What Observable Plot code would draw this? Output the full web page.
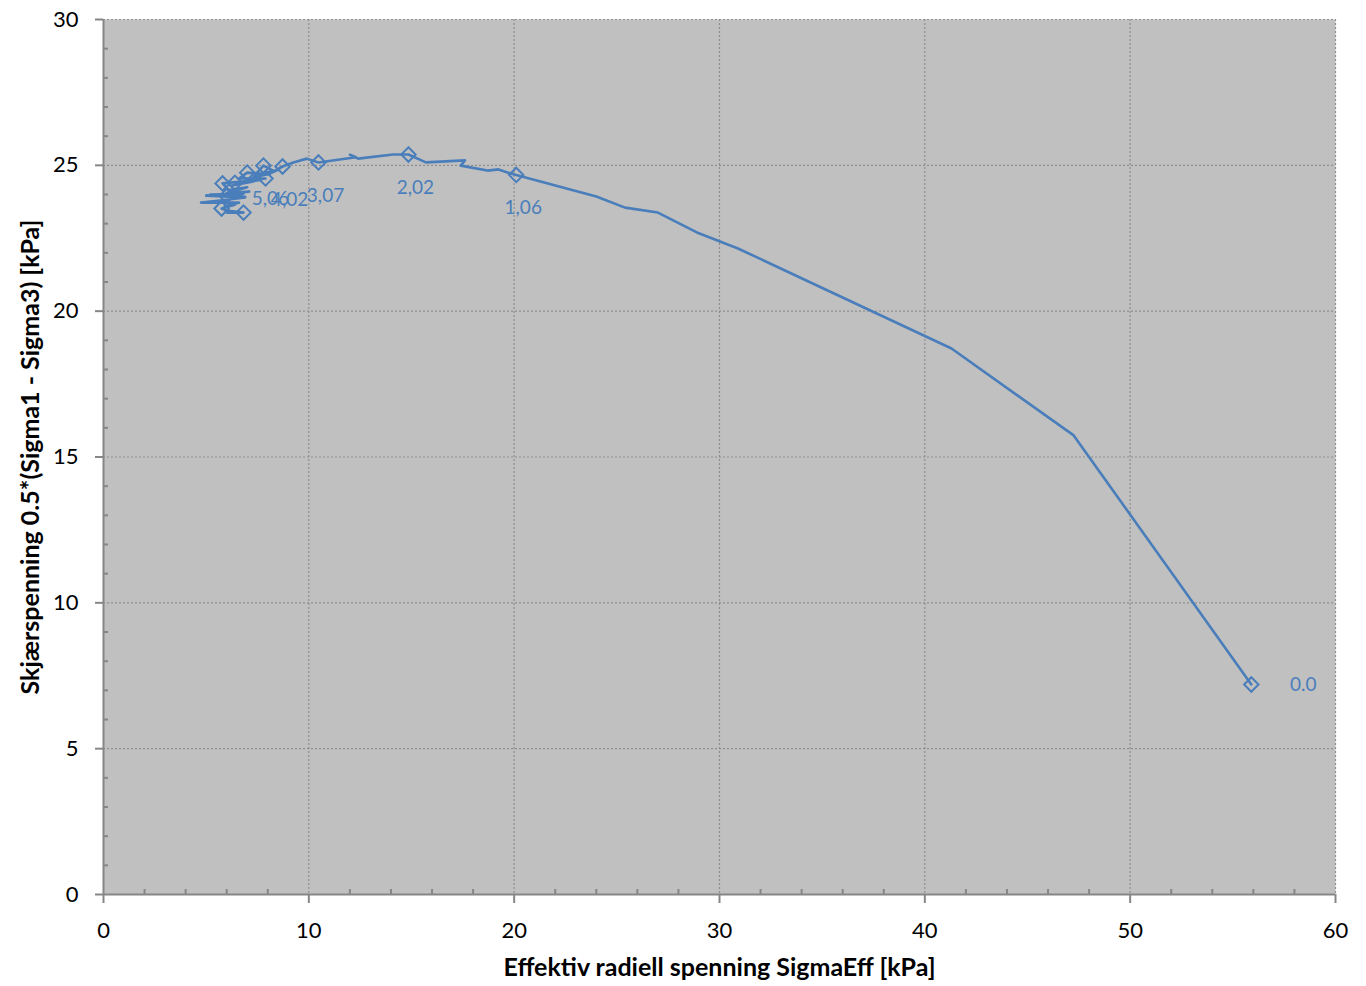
<!DOCTYPE html>
<html>
<head>
<meta charset="utf-8">
<script src="https://cdn.jsdelivr.net/npm/d3@7"></script>
<script src="https://cdn.jsdelivr.net/npm/@observablehq/plot@0.6"></script>
<style>
  html, body { margin: 0; padding: 0; background: #ffffff; }
  #chart { width: 1366px; height: 986px; }
</style>
</head>
<body>
<div id="chart"></div>
<script>
// Stress path: effective radial stress (kPa) against shear stress 0.5*(σ1 − σ3) (kPa)
const sigmaEff = [
  55.9, 47.25, 41.3, 30.9, 28.9, 27.0, 25.4, 24.0, 20.1,
  19.82, 19.24, 18.7, 17.4, 17.6, 15.7, 14.85, 14.1,
  12.4, 12.0, 12.3, 11.5, 10.47,
  9.9, 9.25, 8.72,
  8.2, 8.5, 7.6, 8.3, 7.79, 7.3, 8.1, 7.0, 6.6, 7.89, 6.4, 7.3, 6.2, 7.6, 5.8,
  6.1, 7.0, 6.0, 7.1, 5.9, 6.8, 5.2, 6.9, 5.0, 6.9, 5.8, 4.75, 6.6, 5.9, 6.4, 5.75, 6.0, 6.82, 6.0
];
const shear = [
  7.2, 15.74, 18.72, 22.15, 22.7, 23.38, 23.55, 23.93, 24.67,
  24.72, 24.86, 24.82, 24.99, 25.17, 25.1, 25.37, 25.37,
  25.23, 25.36, 25.28, 25.2, 25.1,
  25.23, 25.1, 24.96,
  24.75, 24.85, 24.7, 24.8, 24.99, 24.6, 24.7, 24.75, 24.55, 24.55, 24.4, 24.45, 24.3, 24.5, 24.38,
  24.15, 24.25, 24.05, 24.1, 23.95, 24.02, 24.0, 23.92, 23.96, 23.9, 23.8, 23.72, 23.72, 23.6, 23.65, 23.52, 23.45, 23.38, 23.38
];

// Points drawn with a diamond marker
const markerEff   = [55.9, 20.1, 14.85, 10.47, 8.72, 7.79, 7.89, 7.0, 5.8, 6.82, 5.75, 6.4, 6.0];
const markerShear = [7.2, 24.67, 25.37, 25.1, 24.96, 24.99, 24.55, 24.75, 24.38, 23.38, 23.52, 24.4, 23.95];

// Time labels attached to markers
const timeLabels = ["0.0", "1,06", "2,02", "3,07", "4,02", "5,06"];
const labelEff   = [55.9, 20.1, 14.85, 10.47, 8.72, 7.79];
const labelShear = [7.2, 24.67, 25.37, 25.1, 24.96, 24.99];

const xMajor = [0, 10, 20, 30, 40, 50, 60];
const yMajor = [0, 5, 10, 15, 20, 25, 30];
const xMinor = d3.range(0, 61, 2).filter(v => v % 10 !== 0);
const yMinor = d3.range(0, 31, 1).filter(v => v % 5 !== 0);

const xTitle = "Effektiv radiell spenning SigmaEff [kPa]";
const yTitle = "Skjærspenning 0.5*(Sigma1 - Sigma3) [kPa]";

const path = sigmaEff.map((x, i) => ({x, y: shear[i]}));
const markers = markerEff.map((x, i) => ({x, y: markerShear[i]}));
const labels = timeLabels.map((t, i) => ({t, x: labelEff[i], y: labelShear[i]}));

const blue = "#4a7ebb";
const axisGray = "#868686";
const gridGray = "#8e8e8e";

const chart = Plot.plot({
  width: 1366,
  height: 986,
  marginLeft: 103,
  marginRight: 31,
  marginTop: 19,
  marginBottom: 92,
  style: {fontFamily: "Lato, 'Open Sans', sans-serif", background: "#ffffff", color: "#000"},
  x: {domain: [0, 60]},
  y: {domain: [0, 30]},
  marks: [
    Plot.frame({fill: "#c0c0c0", stroke: "none"}),
    Plot.gridX(xMajor.slice(1), {stroke: gridGray, strokeOpacity: 1, strokeWidth: 1.2, strokeDasharray: "2,2"}),
    Plot.gridY(yMajor.slice(1), {stroke: gridGray, strokeOpacity: 1, strokeWidth: 1.2, strokeDasharray: "2,2"}),
    // major ticks outside, minor ticks inside
    Plot.axisX({ticks: xMajor, tickSize: 9, tickPadding: 19, fontSize: 22, stroke: axisGray, strokeWidth: 2, label: null, fill: "#000"}),
    Plot.axisY({ticks: yMajor, tickSize: 8, tickPadding: 17, fontSize: 22, stroke: axisGray, strokeWidth: 2, label: null, fill: "#000"}),
    Plot.axisX({ticks: xMinor, tickSize: 5, dy: -5, tickFormat: () => "", stroke: axisGray, strokeWidth: 2, label: null}),
    Plot.axisY({ticks: yMinor, tickSize: 5, dx: 5, tickFormat: () => "", stroke: axisGray, strokeWidth: 2, label: null}),
    Plot.ruleY([0], {stroke: axisGray, strokeWidth: 2}),
    Plot.ruleX([0], {stroke: axisGray, strokeWidth: 2}),
    Plot.line(path, {x: "x", y: "y", stroke: blue, strokeWidth: 2.6, curve: "linear"}),
    Plot.dot(markers, {x: "x", y: "y", symbol: "diamond2", r: 6.5, stroke: blue, strokeWidth: 2, fill: "none"}),
    Plot.text(labels.slice(0, 1), {x: "x", y: "y", text: "t", dx: 52, fill: blue, fontSize: 19}),
    Plot.text(labels.slice(1), {x: "x", y: "y", text: "t", dx: 7, dy: 33, fill: blue, fontSize: 19}),
    Plot.text([xTitle], {frameAnchor: "bottom", dy: 81, text: d => d, fontSize: 25, fontWeight: "bold", fill: "#000"}),
    Plot.text([yTitle], {frameAnchor: "left", dx: -73, rotate: -90, textAnchor: "middle", text: d => d, fontSize: 25, fontWeight: "bold", fill: "#000"})
  ]
});
document.getElementById("chart").appendChild(chart);
</script>
</body>
</html>
